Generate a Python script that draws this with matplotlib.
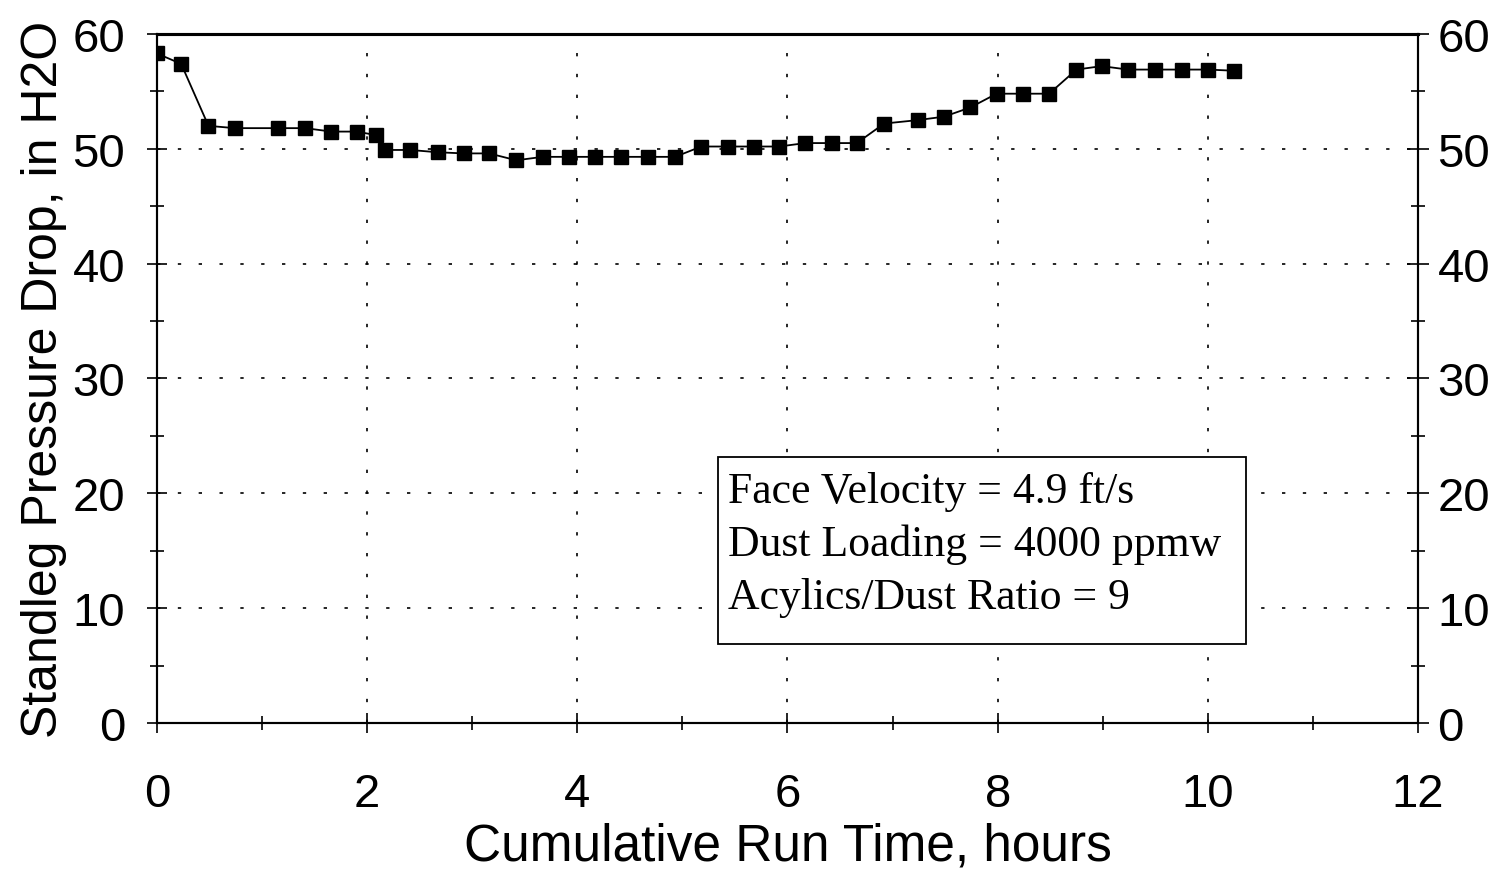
import matplotlib
matplotlib.use("Agg")
import matplotlib.pyplot as plt
from matplotlib.ticker import MultipleLocator
from matplotlib.patches import Rectangle

hours = [0.0, 0.23, 0.49, 0.74, 1.15, 1.41, 1.66, 1.90, 2.08, 2.17, 2.41, 2.67,
         2.92, 3.16, 3.42, 3.67, 3.92, 4.17, 4.42, 4.67, 4.93, 5.18, 5.43, 5.68,
         5.92, 6.17, 6.42, 6.66, 6.92, 7.24, 7.49, 7.74, 7.99, 8.24, 8.49, 8.75,
         8.99, 9.24, 9.50, 9.75, 10.0, 10.25]
pressure = [58.3, 57.4, 52.0, 51.8, 51.8, 51.8, 51.5, 51.5, 51.2, 49.9, 49.9, 49.7,
            49.6, 49.6, 49.0, 49.3, 49.3, 49.3, 49.3, 49.3, 49.3, 50.2, 50.2, 50.2,
            50.2, 50.5, 50.5, 50.5, 52.2, 52.5, 52.8, 53.6, 54.8, 54.8, 54.8, 56.9,
            57.2, 56.9, 56.9, 56.9, 56.9, 56.8]
x_ticks = [0, 2, 4, 6, 8, 10, 12]
y_ticks = [0, 10, 20, 30, 40, 50, 60]
box_lines = ["Face Velocity = 4.9 ft/s", "Dust Loading = 4000 ppmw",
             "Acylics/Dust Ratio = 9"]

plt.rcParams['font.family'] = ['Liberation Sans', 'DejaVu Sans']

fig = plt.figure(figsize=(14.95, 8.7), dpi=100)
fig.patch.set_facecolor('white')
ax = fig.add_axes([0.105, 0.1678, 0.9485 - 0.105, 0.9598 - 0.1678])
ax.plot(hours, pressure, color='black', lw=1.3, marker='s', markersize=10,
        markerfacecolor='black', markeredgecolor='black', zorder=3)

ax.set_xlim(0, 12)
ax.set_ylim(0, 60)
ax.set_xticks(x_ticks)
ax.set_yticks(y_ticks)
ax.xaxis.set_minor_locator(MultipleLocator(1))
ax.yaxis.set_minor_locator(MultipleLocator(5))
ax.grid(True, which='major', linestyle=(0, (2, 10.5)), color='black', lw=1.2)
ax.tick_params(which='both', direction='inout', length=14, width=1.2,
               labelsize=34, top=False)
ax.tick_params(which='minor', length=10)
ax.tick_params(axis='x', pad=28)
ax.tick_params(axis='y', pad=16)
for s in ax.spines.values():
    s.set_linewidth(1.5)
ax.spines['top'].set_linewidth(2.2)

ax2 = ax.twinx()
ax2.set_ylim(0, 60)
ax2.set_yticks(y_ticks)
ax2.yaxis.set_minor_locator(MultipleLocator(5))
ax2.tick_params(which='both', direction='inout', length=16, width=1.2,
                labelsize=34, pad=6)
ax2.tick_params(which='minor', length=10)
for s in ax2.spines.values():
    s.set_linewidth(1.5)
ax2.spines['top'].set_linewidth(2.2)

ax.set_xlabel("Cumulative Run Time, hours", fontsize=37, labelpad=4)
ax.set_ylabel("Standleg Pressure Drop, in H2O", fontsize=36, labelpad=4)

ax.add_patch(Rectangle((5.34, 6.88), 10.36 - 5.34, 23.17 - 6.88,
                       facecolor='white', edgecolor='black', lw=1.3, zorder=4))
for line, yb in zip(box_lines, [19.25, 14.63, 10.02]):
    ax.text(5.43, yb, line, fontsize=31.5, family='Liberation Serif',
            va='baseline', ha='left', zorder=5)

fig.savefig("out.png", dpi=100, facecolor='white')
